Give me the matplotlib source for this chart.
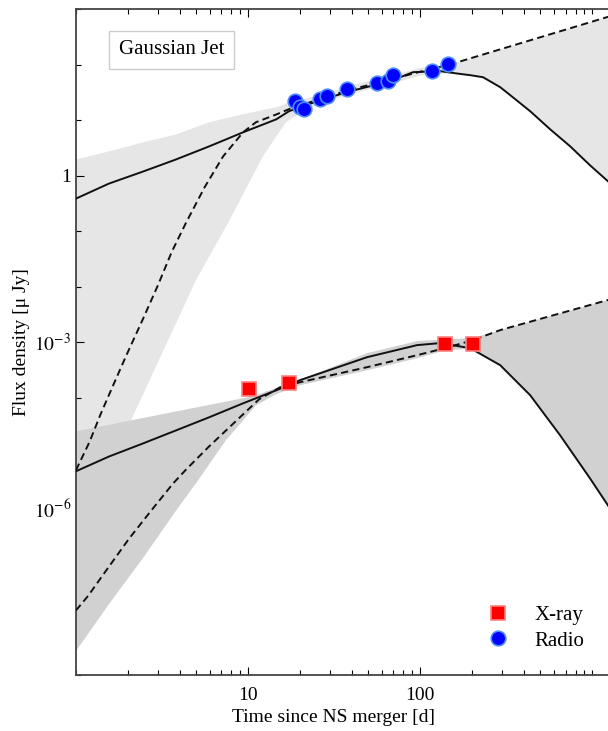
import matplotlib.pyplot as plt
import numpy as np
from matplotlib.ticker import NullFormatter

plt.rcParams['font.family'] = ['Liberation Serif', 'DejaVu Serif']
plt.rcParams['mathtext.fontset'] = 'stix'

# radio (3 GHz) detections [d, uJy]
radio_t = [18.8, 20.1, 21.0, 26.2, 28.7, 37.5, 56.0, 65.4, 69.9, 117, 146]
radio_f = [22.1, 16.8, 15.6, 23.7, 27.2, 35.9, 45.5, 50.7, 65.1, 75.0, 101.7]

# X-ray (1 keV) detections
xray_t = [10.1, 17.3, 139.7, 203]
xray_f = [1.41e-4, 1.81e-4, 9.2e-4, 9.2e-4]

# radio model, solid / dashed
rad_sol_t = [1.0, 1.556, 2.455, 3.81, 5.93, 9.35, 14.6, 17.3, 26.2, 39.2, 67.0, 91.0, 130.6,
             171, 195, 232, 292, 334, 436, 570, 745, 973, 1239, 2000]
rad_sol_f = [0.384, 0.716, 1.18, 1.945, 3.34, 6.0, 10.3, 14.4, 22.7, 33.0, 50.1, 72.8, 75.9,
             67.6, 64.3, 59.0, 39.0, 28.0, 14.4, 6.79, 3.35, 1.52, 0.78, 0.186]
rad_dsh_t = [1.0, 1.2, 1.397, 1.65, 1.954, 2.45, 3.0, 3.6, 4.36, 5.6, 7.16, 9.35, 11.1, 14.6,
             17.4, 26.3, 39.8, 67.6, 100, 149, 1239, 2000]
rad_dsh_f = [4.9e-6, 1.6e-5, 5.2e-5, 1.7e-4, 5.6e-4, 2.6e-3, 0.0107, 0.042, 0.141, 0.62, 2.21,
             6.0, 9.1, 12.6, 15.8, 24.0, 35.5, 53.7, 74.1, 100, 724, 1135]

# radio model spread
rad_hi_t = [1.0, 1.556, 2.455, 3.81, 5.93, 9.35, 14.6, 17.3, 26.3, 39.8, 67.6, 100, 149, 1239, 2000]
rad_hi_f = [1.945, 2.72, 3.95, 5.51, 9.08, 12.7, 17.0, 20.9, 28.2, 41.7, 63, 87, 100, 724, 1135]
rad_lo_t = [1.0, 2.09, 4.99, 7.66, 12.2, 16.6, 20.0, 26.3, 39.8, 67.6, 100, 130.6, 171, 195,
            232, 292, 334, 436, 570, 745, 973, 1239, 2000]
rad_lo_f = [2.8e-7, 3.9e-5, 0.0132, 0.141, 2.21, 9.08, 13.2, 20.0, 29.5, 44.7, 63, 69, 67.6,
            64.3, 59.0, 39.0, 28.0, 14.4, 6.79, 3.35, 1.52, 0.78, 0.186]

# X-ray model, solid / dashed
xr_sol_t = [1.0, 1.556, 2.455, 3.81, 5.93, 9.35, 14.6, 20.0, 49.2, 96.1, 130.6, 195.4,
            292, 436, 652, 973, 1239, 2000]
xr_sol_f = [4.69e-6, 8.65e-6, 1.49e-5, 2.55e-5, 4.39e-5, 7.85e-5, 1.35e-4, 2.05e-4, 5.33e-4,
            8.79e-4, 9.55e-4, 7.76e-4, 3.82e-4, 1.10e-4, 2.07e-5, 3.46e-6, 1.12e-6, 1.26e-7]
xr_dsh_t = [1.0, 1.174, 1.535, 2.03, 2.73, 3.66, 4.36, 5.93, 9.35, 11.6, 15.35, 20.0, 49.2,
            96.1, 139.7, 203, 292, 1239, 2000]
xr_dsh_f = [1.46e-8, 2.65e-8, 8.5e-8, 2.84e-7, 9.1e-7, 2.81e-6, 5.03e-6, 1.31e-5, 4.97e-5,
            9.3e-5, 1.53e-4, 1.88e-4, 3.52e-4, 5.79e-4, 7.76e-4, 1.08e-3, 1.64e-3, 5.73e-3, 8.7e-3]

# X-ray model spread
xr_hi_t = [1.0, 2.09, 3.81, 9.35, 11.1, 21.8, 49.2, 96.1, 130.6, 203, 292, 1239, 2000]
xr_hi_f = [2.45e-5, 3.87e-5, 5.6e-5, 9.7e-5, 1.10e-4, 2.32e-4, 6.3e-4, 1.04e-3, 1.1e-3,
           1.18e-3, 1.64e-3, 5.73e-3, 8.7e-3]
xr_lo_t = [1.0, 1.556, 2.455, 3.81, 5.11, 7.42, 11.1, 14.6, 20.0, 49.2, 96.1, 139.7, 195.4,
           292, 436, 652, 973, 1239, 2000]
xr_lo_f = [2.7e-9, 1.9e-8, 1.29e-7, 9.1e-7, 3.18e-6, 1.68e-5, 7.2e-5, 1.15e-4, 1.66e-4, 3.1e-4,
           5.1e-4, 7.1e-4, 7.5e-4, 3.82e-4, 1.10e-4, 2.07e-5, 3.46e-6, 1.12e-6, 1.26e-7]

W, H = 608, 731
fig = plt.figure(figsize=(W / 100, H / 100), dpi=100)
# axes runs past the right edge, like the cropped panel
ax = fig.add_axes([76 / W, 1 - 675 / H, 568 / W, 666 / H])
ax.set_xscale('log')
ax.set_yscale('log')

ax.fill(rad_hi_t + rad_lo_t[::-1], rad_hi_f + rad_lo_f[::-1], color='#e6e6e6', lw=0, zorder=1)
ax.fill(xr_hi_t + xr_lo_t[::-1], xr_hi_f + xr_lo_f[::-1], color='#d1d1d1', lw=0, zorder=2)

dash = (0, (3.7, 2.2))
ax.plot(rad_sol_t, rad_sol_f, color='#111111', lw=1.4, zorder=3)
ax.plot(rad_dsh_t, rad_dsh_f, color='#111111', lw=1.4, ls=dash, zorder=3)
ax.plot(xr_sol_t, xr_sol_f, color='#111111', lw=1.4, zorder=3)
ax.plot(xr_dsh_t, xr_dsh_f, color='#111111', lw=1.4, ls=dash, zorder=3)

ax.plot(xray_t, xray_f, 's', ms=10, mfc='#ff0000', mec='#ff8080', mew=1.2,
        label='X-ray', zorder=5)
ax.plot(radio_t, radio_f, 'o', ms=10.5, mfc='#0000ff', mec='#4d8cff', mew=1.2,
        label='Radio', zorder=5)

ax.set_xlim(1, 2000)
ax.set_ylim(1e-9, 1e3)

ax.set_xticks([10, 100], labels=['10', '100'])
ax.set_xticks([m * 10 ** e for e in range(0, 4) for m in range(1, 10) if m * 10 ** e <= 2000],
              minor=True)
ax.set_yticks([1e-6, 1e-3, 1], labels=[r'$10^{-6}$', r'$10^{-3}$', '1'])
ax.set_yticks(10.0 ** np.arange(-9, 4), minor=True)
ax.xaxis.set_minor_formatter(NullFormatter())
ax.yaxis.set_minor_formatter(NullFormatter())
ax.tick_params(which='both', direction='in', top=True, right=True, labelsize=14, width=0.8)
ax.tick_params(which='major', length=6)
ax.tick_params(which='minor', length=3.5)
ax.tick_params(axis='x', pad=9)
for s in ax.spines.values():
    s.set_color('#444444')
    s.set_linewidth(1.3)

ax.set_xlabel('Time since NS merger [d]', fontsize=14)
ax.xaxis.label.set_va('center')
ax.xaxis.set_label_coords((333 - 76) / 568, (675 - 717) / 666)
ax.set_ylabel('Flux density [μ Jy]', fontsize=14)
ax.yaxis.label.set_va('center')
ax.yaxis.set_label_coords((22 - 76) / 568, 0.5)

ax.text((171.5 - 76) / 568, (675 - 50) / 666, 'Gaussian Jet', transform=ax.transAxes,
        fontsize=15, ha='center', va='center',
        bbox=dict(boxstyle='square,pad=0.45', fc='white', ec='#cccccc', lw=1))

ax.legend(loc='center left', bbox_to_anchor=(469 / W, 1 - 628 / H),
          bbox_transform=fig.transFigure, frameon=False, fontsize=15, numpoints=1,
          handlelength=1.0, handletextpad=1.25, labelspacing=0.3, borderpad=0.4)

fig.savefig('out.png', dpi=100)
